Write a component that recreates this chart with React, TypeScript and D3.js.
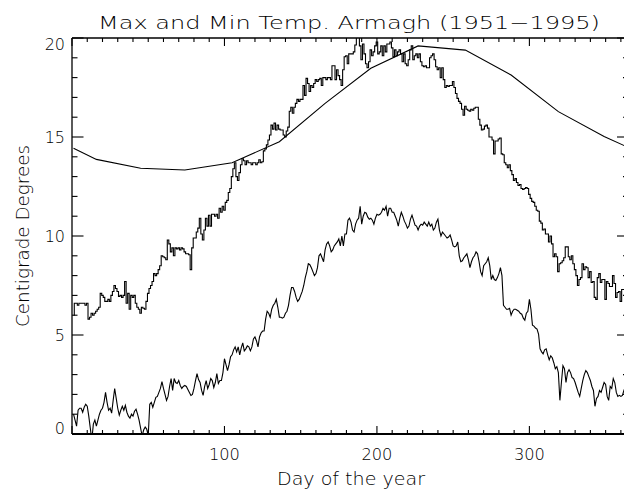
import React from "react";
import * as d3 from "d3";

// Daily mean maximum temperature, Armagh 1951-1995 (days 1..365)
const maxTemp: number[] = [
  6.0, 6.6, 6.6, 6.5, 6.6, 6.6, 6.6, 6.6, 6.5, 6.6,
  5.8, 5.9, 6.1, 6.0, 6.1, 6.2, 6.3, 6.4, 7.1, 7.0,
  6.9, 6.7, 6.7, 6.8, 6.7, 7.0, 7.2, 7.5, 7.35, 7.2,
  6.95, 7.0, 6.9, 7.0, 7.7, 6.6, 7.1, 6.3, 7.0, 6.9,
  7.0, 6.6, 6.4, 6.3, 6.1, 6.4, 6.35, 6.3, 6.7, 7.1,
  7.35, 7.5, 7.7, 8.1, 8.0, 8.1, 8.3, 8.5, 9.0, 8.95,
  8.9, 8.8, 9.8, 9.6, 9.2, 9.4, 9.0, 9.4, 9.35, 9.4,
  9.3, 9.4, 9.35, 9.2, 9.1, 9.1, 9.05, 8.3, 9.4, 9.9,
  9.9, 10.2, 10.4, 10.9, 10.1, 9.8, 10.3, 10.9, 10.5, 11.05,
  10.5, 11.1, 11.1, 11.0, 11.1, 10.9, 11.4, 11.2, 11.5, 11.3,
  11.7, 11.8, 12.2, 12.4, 13.0, 13.4, 13.7, 13.0, 12.8, 13.2,
  13.6, 13.9, 13.8, 13.6, 13.8, 13.7, 13.7, 13.6, 13.7, 13.7,
  13.6, 13.7, 13.85, 13.7, 13.75, 14.3, 14.4, 14.6, 14.85, 15.1,
  15.6, 15.4, 15.7, 15.35, 15.6, 15.4, 15.35, 15.35, 15.1, 15.0,
  15.3, 15.5, 16.3, 16.5, 16.2, 16.5, 16.7, 16.9, 16.8, 16.9,
  16.9, 17.6, 17.1, 17.96, 17.7, 17.3, 17.6, 17.5, 17.7, 17.9,
  17.8, 17.9, 17.96, 17.6, 18.0, 18.0, 17.9, 18.0, 18.0, 17.9,
  18.6, 18.6, 17.9, 18.4, 18.1, 17.9, 17.6, 18.4, 19.05, 19.1,
  18.7, 19.2, 19.2, 19.2, 19.3, 19.65, 20.2, 20.1, 19.6, 18.9,
  19.7, 19.2, 18.7, 18.5, 18.8, 19.4, 19.1, 19.3, 19.6, 19.8,
  19.2, 19.3, 19.6, 19.1, 19.6, 19.3, 19.7, 19.7, 19.8, 19.5,
  19.05, 19.4, 19.1, 19.3, 19.4, 19.2, 18.8, 19.2, 18.7, 18.6,
  18.9, 19.4, 19.6, 18.9, 19.1, 19.2, 19.0, 19.2, 18.8, 18.6,
  18.55, 18.6, 18.5, 18.5, 19.0, 19.1, 19.2, 18.9, 18.55, 18.4,
  18.5, 18.0, 18.5, 17.9, 17.5, 17.6, 17.55, 17.6, 17.6, 17.8,
  17.5, 17.2, 16.95, 16.8, 16.7, 16.4, 16.1, 16.55, 16.4, 16.35,
  16.3, 16.4, 16.35, 16.45, 16.5, 16.5, 15.9, 15.6, 15.35, 15.4,
  15.55, 15.6, 15.45, 15.0, 15.0, 14.85, 14.15, 14.8, 14.8, 14.9,
  14.95, 14.15, 14.1, 13.7, 13.6, 13.45, 13.6, 13.3, 13.1, 12.8,
  12.9, 12.7, 12.55, 12.6, 12.4, 12.35, 12.4, 12.45, 12.4, 12.1,
  11.9, 11.75, 11.7, 11.5, 11.3, 11.25, 10.75, 10.65, 10.3, 10.35,
  10.1, 10.1, 9.7, 10.0, 9.6, 8.95, 9.1, 8.95, 8.2, 8.6,
  8.65, 8.75, 8.9, 9.45, 9.45, 8.95, 8.8, 9.0, 8.6, 8.3,
  8.0, 7.5, 7.8, 7.9, 8.6, 8.3, 8.45, 8.4, 7.9, 8.2,
  7.65, 7.7, 6.9, 6.8, 7.9, 8.1, 7.65, 7.8, 7.8, 6.8,
  7.7, 7.6, 7.45, 7.45, 8.0, 7.6, 6.9, 7.15, 7.2, 6.7,
  7.3, 7.3, 7.0, 7.2, 6.9,
];

// Daily mean minimum temperature (days 1..365)
const minTemp: number[] = [
  1.0, 0.7, 0.4, 1.2, 1.3, 1.3, 1.1, 1.35, 1.5, 1.4,
  0.9, 0.3, -0.3, 0.5, 0.7, 0.4, 0.7, 1.0, 1.2, 1.3,
  1.6, 2.1, 1.6, 1.2, 1.3, 1.05, 1.7, 2.3, 1.8, 1.3,
  0.95, 1.2, 1.4, 1.2, 1.45, 1.1, 0.9, 0.8, 1.0, 0.9,
  1.15, 1.25, 1.0, 0.7, 0.3, -0.1, 0.2, 0.35, 0.25, -0.1,
  1.5, 1.6, 1.35, 1.6, 1.85, 1.9, 2.1, 2.3, 2.65, 2.3,
  2.0, 1.7, 1.9, 2.4, 2.8, 2.2, 2.8, 2.6, 2.55, 2.7,
  2.45, 2.3, 2.4, 2.45, 2.4, 2.25, 2.1, 1.95, 2.0, 2.3,
  2.7, 3.05, 2.75, 2.6, 2.2, 1.95, 2.4, 2.7, 2.3, 2.5,
  2.8, 2.7, 2.35, 2.6, 3.05, 2.55, 2.7, 2.7, 3.1, 3.8,
  3.5, 3.2, 3.5, 3.9, 4.0, 4.25, 4.4, 4.15, 4.4, 4.0,
  4.35, 4.6, 4.2, 4.3, 4.45, 4.4, 4.2, 4.4, 4.8, 4.9,
  4.7, 4.4, 4.9, 5.1, 5.2, 5.2, 5.8, 6.2, 6.1, 5.9,
  6.3, 6.5, 6.6, 6.8, 6.4, 5.9, 5.9, 5.85, 5.9, 6.1,
  6.2, 6.5, 7.0, 7.4, 7.4, 7.2, 6.9, 6.7, 6.8, 7.0,
  7.2, 7.5, 7.9, 8.2, 8.6, 8.55, 8.4, 8.2, 8.0, 8.1,
  8.4, 9.0, 9.1, 8.9, 8.7, 9.3, 9.6, 9.7, 9.5, 9.2,
  9.3, 9.5, 9.6, 9.7, 9.85, 9.5, 10.0, 9.5, 10.1, 10.1,
  10.8, 10.9, 10.7, 10.3, 10.2, 10.6, 10.8, 10.9, 11.5, 10.6,
  11.0, 11.2, 11.15, 10.95, 10.85, 10.9, 10.8, 10.6, 10.9, 11.1,
  11.05, 11.1, 11.2, 11.4, 11.3, 11.5, 11.0, 11.4, 11.4, 11.2,
  11.2, 11.0, 10.8, 10.5, 10.9, 11.2, 11.0, 10.75, 10.6, 10.4,
  10.5, 10.85, 11.05, 10.8, 10.55, 10.5, 10.3, 10.5, 10.6, 10.55,
  10.7, 10.6, 10.5, 10.7, 10.5, 10.6, 10.3, 10.4, 10.7, 10.85,
  10.3, 10.0, 10.2, 10.1, 10.0, 9.9, 9.95, 10.05, 9.8, 9.5,
  9.45, 9.5, 9.7, 9.0, 8.7, 8.75, 8.9, 9.0, 9.1, 8.8,
  8.4, 8.7, 8.9, 9.0, 9.2, 9.1, 8.7, 8.2, 8.0, 8.5,
  8.6, 8.7, 8.9, 8.5, 7.8, 8.0, 7.8, 7.75, 7.9, 8.1,
  8.4, 8.0, 6.5, 6.4, 6.3, 6.3, 6.35, 6.0, 6.2, 6.3,
  6.3, 6.25, 6.2, 6.1, 6.05, 5.85, 5.75, 6.1, 6.2, 6.8,
  6.3, 5.5, 5.45, 5.35, 5.3, 5.05, 4.3, 4.15, 4.05, 4.25,
  4.3, 4.0, 3.75, 3.95, 3.85, 3.6, 3.3, 3.4, 3.1, 1.7,
  2.6, 3.45, 3.3, 2.6, 3.1, 3.25, 3.1, 2.85, 2.8, 2.6,
  2.35, 2.1, 1.9, 2.3, 2.7, 3.0, 3.2, 3.1, 2.9, 2.7,
  2.4, 2.2, 1.4, 1.8, 1.9, 2.2, 2.1, 2.35, 2.6, 2.5,
  1.9, 1.7, 2.4, 2.3, 2.8, 2.6, 2.1, 1.9, 1.95, 1.9,
  1.95, 2.2, 2.4, 1.6, 1.8,
];

// Smooth monthly curve (mid-month days and values)
const curveDays: number[] = [1, 16, 45, 74, 105, 136, 166, 196, 227, 258, 288, 319, 349, 365];
const curveVals: number[] = [14.43, 13.87, 13.42, 13.33, 13.7, 14.76, 16.7, 18.47, 19.6, 19.39, 18.13, 16.28, 15.02, 14.47];

const xTickLabels: number[] = [100, 200, 300];
const yTickLabels: number[] = [0, 5, 10, 15, 20];

const W = 624;
const H = 491;
const L = 72;
const R = 628.5;
const T = 38;
const B = 434;

export default function App() {
  const x = d3.scaleLinear().domain([0, 365]).range([L, R]);
  const y = d3.scaleLinear().domain([0, 20]).range([B, T]);

  const stepLine = d3
    .line<number>()
    .x((_, i) => x(i + 1))
    .y((d) => y(d))
    .curve(d3.curveStep);
  const plainLine = d3
    .line<number>()
    .x((_, i) => x(i + 1))
    .y((d) => y(d));
  const smoothLine = d3
    .line<number>()
    .x((_, i) => x(curveDays[i]))
    .y((d) => y(d));

  const xMinor = d3.range(0, 366, 10);
  const yMinor = d3.range(0, 21, 1);
  const font = "'DejaVu Sans', sans-serif";
  const stroke = "#000";

  return (
    <svg
      width={W}
      height={H}
      style={{ position: "absolute", left: 0, top: 0, background: "#fff" }}
    >
      <defs>
        <clipPath id="plotclip">
          <rect x={L} y={T} width={R - L} height={B - T} />
        </clipPath>
      </defs>
      <rect x={0} y={0} width={W} height={H} fill="#fff" />

      {/* data */}
      <g clipPath="url(#plotclip)" fill="none" stroke={stroke} strokeWidth={1.1}>
        <path d={stepLine(maxTemp) || ""} />
        <path d={plainLine(minTemp) || ""} />
        <path d={smoothLine(curveVals) || ""} />
      </g>

      {/* axes box */}
      <g stroke={stroke} fill="none">
        <line x1={L} x2={R} y1={B} y2={B} strokeWidth={2} />
        <line x1={L} x2={R} y1={T} y2={T} strokeWidth={1.3} />
        <line x1={L} x2={L} y1={T} y2={B} strokeWidth={1.3} />
        <line x1={R} x2={R} y1={T} y2={B} strokeWidth={1.3} />
        {xMinor.map((v) => {
          const len = v % 100 === 0 ? 8 : 4;
          return (
            <g key={"x" + v}>
              <line x1={x(v)} x2={x(v)} y1={B} y2={B - len} strokeWidth={1.1} />
              <line x1={x(v)} x2={x(v)} y1={T} y2={T + len} strokeWidth={1.1} />
            </g>
          );
        })}
        {yMinor.map((v) => {
          const len = v % 5 === 0 ? 11.5 : 5.5;
          return (
            <g key={"y" + v}>
              <line x1={L} x2={L + len} y1={y(v)} y2={y(v)} strokeWidth={1.1} />
              <line x1={R} x2={R - len} y1={y(v)} y2={y(v)} strokeWidth={1.1} />
            </g>
          );
        })}
      </g>

      {/* tick labels */}
      <g fontFamily={font} fontWeight={200} fontSize={16} fill="#000">
        {xTickLabels.map((v) => (
          <text key={"xl" + v} x={x(v)} y={460} textAnchor="middle" textLength={31} lengthAdjust="spacingAndGlyphs">
            {v}
          </text>
        ))}
        {yTickLabels.map((v) => {
          let yy = y(v) + 6;
          if (v === 0) yy = y(v) - 0.5;
          if (v === 20) yy = y(v) + 12;
          return (
            <text key={"yl" + v} x={65} y={yy} textAnchor="end">
              {v}
            </text>
          );
        })}
      </g>

      {/* titles */}
      <g fontFamily={font} fontWeight={200} fontSize={18.3} fill="#000">
        <text x={349} y={28.5} textAnchor="middle" textLength={502} lengthAdjust="spacingAndGlyphs">
          Max and Min Temp. Armagh (1951−1995)
        </text>
        <text x={351} y={485} textAnchor="middle" textLength={148} lengthAdjust="spacingAndGlyphs">
          Day of the year
        </text>
        <text
          transform="translate(28.5,236) rotate(-90)"
          x={0}
          y={0}
          textAnchor="middle"
          textLength={182}
          lengthAdjust="spacingAndGlyphs"
        >
          Centigrade Degrees
        </text>
      </g>
    </svg>
  );
}
